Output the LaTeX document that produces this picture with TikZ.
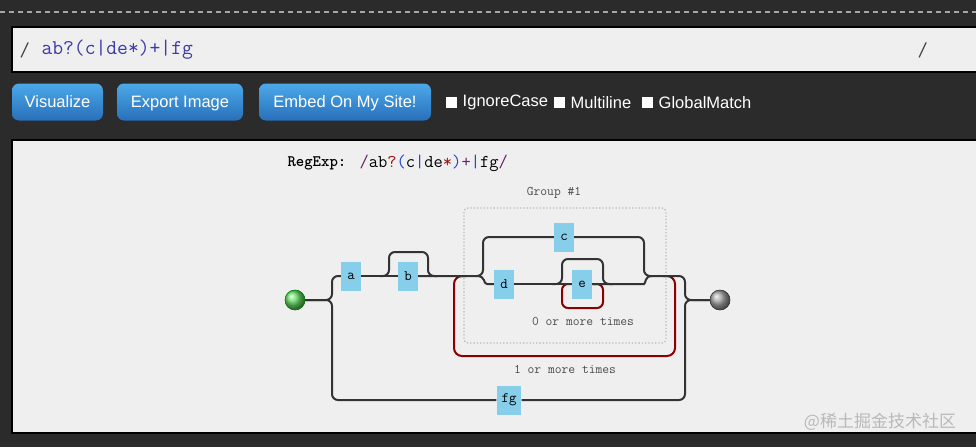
\documentclass[tikz,border=0pt]{standalone}
\usepackage{fontspec}
\newfontfamily\uifont{Liberation Sans}
\newfontfamily\cjkfont{Noto Sans CJK SC}
\usetikzlibrary{positioning}
\definecolor{panelbg}{HTML}{2B2B2B}
\definecolor{paper}{HTML}{EFEFEF}
\definecolor{railgray}{HTML}{333333}
\definecolor{charblue}{HTML}{87CEEB}
\definecolor{loopred}{HTML}{8B0000}
\definecolor{srcblue}{HTML}{3A3AAA}
\definecolor{rxpurple}{HTML}{6B1F6B}
\definecolor{rxblue}{HTML}{1E3EDC}
\definecolor{rxred}{HTML}{9B1010}
\definecolor{btntop}{HTML}{4DA8E8}
\definecolor{btnbot}{HTML}{2870BA}
\definecolor{startgreen}{HTML}{66E066}
\tikzset{
  rail/.style={draw=railgray, line width=2pt, rounded corners=6pt},
  looppath/.style={draw=loopred, line width=2pt, rounded corners=8pt},
  charbox/.style={fill=charblue, font=\fontsize{14.5}{14.5}\selectfont\ttfamily,
    minimum width=20pt, minimum height=29pt, inner xsep=5pt},
  note/.style={font=\fontsize{13.2}{13.2}\selectfont\ttfamily, text=black!70},
  btn/.style={rounded corners=7pt, top color=btntop, bottom color=btnbot,
    text=white, font=\uifont\fontsize{16.5}{16.5}\selectfont, minimum height=37pt,
    text depth=0pt},
  chk/.style={fill=white, minimum size=11pt, inner sep=0pt},
  chklabel/.style={anchor=west, text=white, font=\uifont\fontsize{16.5}{16.5}\selectfont},
  ball/.style={circle, minimum size=20pt, inner sep=0pt, shading=ball}
}
\begin{document}
\begin{tikzpicture}[x=1pt, y=-1pt]
    \useasboundingbox (0,0) rectangle (976,447);
    \fill[panelbg] (0,0) rectangle (976,447);
    \draw[gray!70, line width=2pt, dash pattern=on 5pt off 4pt] (0,12) -- (976,12);
    % source line
    \draw[fill=paper, line width=1.5pt] (12,27) rectangle (990,72);
    \node[anchor=west, text=black!75, font=\fontsize{20}{20}\selectfont\ttfamily] (slashl) at (16,50) {/};
    \node[anchor=west, text=srcblue, font=\fontsize{21}{21}\selectfont\ttfamily] (src) at (38,50) {ab?(c|de*)+|fg};
    \node[anchor=west, text=black!75, font=\fontsize{20}{20}\selectfont\ttfamily] (slashr) at (914,50) {/};
    % buttons
    \node[btn, minimum width=91pt] (vis) at (57.5,102) {Visualize};
    \node[btn, minimum width=126pt] (export) at (180,102) {Export Image};
    \node[btn, minimum width=172pt] (embed) at (345,102) {Embed On My Site!};
    \foreach \x/\name/\txt in {451.5/ic/IgnoreCase, 559.5/ml/Multiline, 647.5/gm/GlobalMatch}
    {
        \node[chk] (\name) at (\x,102.5) {};
        \node[chklabel, right=2pt of \name] {\txt};
    }
    % diagram panel
    \draw[fill=paper, line width=1.5pt] (12,140) rectangle (990,433);
    \node[anchor=west, font=\fontsize{16}{16}\selectfont\ttfamily\bfseries] (rxlabel) at (284,163) {RegExp:};
    \node[anchor=west, font=\fontsize{18}{18}\selectfont\ttfamily] (rx) at (356,163)
        {\textcolor{rxpurple}{/}ab\textcolor{rxred}{?}\textcolor{rxblue}{(}c\textcolor{rxblue}{|}de\textcolor{rxred}{*}\textcolor{rxblue}{)}\textcolor{rxpurple}{+}\textcolor{rxblue}{|}fg\textcolor{rxpurple}{/}};
    % group and loops
    \draw[gray!55, dotted, line width=1.3pt, rounded corners=4pt] (464,208) rectangle (666,343);
    \node[note] (grplabel) at (554,193) {Group \#1};
    \draw[looppath] (466,276) -- (454,276) -- (454,356) -- (675,356) -- (675,276) -- (663,276);
    \draw[looppath, rounded corners=6pt] (572,284) -- (562,284) -- (562,308) -- (603,308) -- (603,284) -- (593,284);
    \node[note] (zero) at (583,321) {0 or more times};
    \node[note] (one) at (565,369) {1 or more times};
    % ends and characters
    \node[ball, ball color=startgreen, draw=green!50!black] (start) at (295,300) {};
    \node[ball, ball color=gray!70, draw=black!80] (finish) at (720,300) {};
    \node[charbox] (a) at (351,276) {a};
    \node[charbox] (b) at (408,276) {b};
    \node[charbox] (c) at (564,237) {c};
    \node[charbox] (d) at (504,284) {d};
    \node[charbox] (e) at (582,284) {e};
    \node[charbox] (fg) at (509,400) {fg};
    \coordinate (fork) at (332,300);
    \coordinate (join) at (685,300);
    \coordinate (grpin) at (477,276);
    \coordinate (grpout) at (652,276);
    % rails
    \draw[rail] (start) -- (fork) -- (332,276) -- (a);
    \draw[rail] (start) -- (fork) -- (332,400) -- (fg);
    \draw[rail] (a) -- (b);
    \draw[rail] (380,276) -- (389,276) -- (389,252) -- (428,252) -- (428,276) -- (437,276);
    \draw[rail] (b) -- (483,276) -- (483,237) -- (c);
    \draw[rail] (c) -- (644,237) -- (644,276) -- (685,276) -- (join) -- (finish);
    \draw[rail] (grpin) .. controls (486,276) and (483,284) .. (493,284) -- (d);
    \draw[rail] (d) -- (e);
    \draw[rail] (552,284) -- (562,284) -- (562,259) -- (603,259) -- (603,284) -- (613,284);
    \draw[rail] (e) -- (638,284) .. controls (646,284) and (644,276) .. (grpout);
    \draw[rail] (fg) -- (685,400) -- (join) -- (finish);
    % boxes over rails
    \foreach \n/\t in {a/a, b/b, c/c, d/d, e/e, fg/fg}
    {
        \node[charbox] at (\n) {\t};
    }
    \node[ball, ball color=startgreen, draw=green!50!black] at (start) {};
    \node[ball, ball color=gray!70, draw=black!80] at (finish) {};
    \node[font=\cjkfont\fontsize{17}{17}\selectfont, text=gray!55] (mark) at (880,422) {@稀土掘金技术社区};
\end{tikzpicture}
\end{document}
